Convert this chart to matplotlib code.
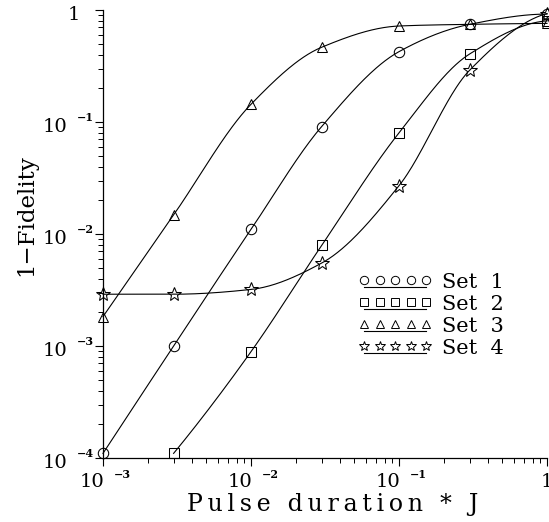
import numpy as np
import matplotlib
matplotlib.use("Agg")
import matplotlib.pyplot as plt
from matplotlib.lines import Line2D
from matplotlib.legend_handler import HandlerBase
from matplotlib.ticker import LogLocator, NullFormatter
from matplotlib.transforms import offset_copy

plt.rcParams['font.family'] = ['DejaVu Serif']

# pulse durations (units of 1/J) and infidelities per parameter set
durations = [1e-3, 3e-3, 1e-2, 3e-2, 1e-1, 3e-1, 1.0]
set1 = [1.1e-4, 1.0e-3, 1.1e-2, 9.1e-2, 4.25e-1, 7.45e-1, 0.92]
set2_durations = [3e-3, 1e-2, 3e-2, 1e-1, 3e-1, 1.0]
set2 = [1.1e-4, 8.9e-4, 7.9e-3, 8.0e-2, 4.05e-1, 0.80]
set3 = [1.83e-3, 1.48e-2, 1.44e-1, 4.65e-1, 7.2e-1, 7.45e-1, 0.76]
set4 = [2.9e-3, 2.9e-3, 3.2e-3, 5.5e-3, 2.7e-2, 2.9e-1, 0.93]

set_labels = ['Set  1', 'Set  2', 'Set  3', 'Set  4']
set_markers = ['o', 's', '^', '*']

y_decades = [-4, -3, -2, -1]
x_decades = [-3, -2, -1]


def pchip(xk, yk, xs):
    """Monotone cubic through (xk, yk), evaluated at xs."""
    xk = np.asarray(xk, float)
    yk = np.asarray(yk, float)
    h = np.diff(xk)
    delta = np.diff(yk) / h
    n = len(xk)
    d = np.zeros(n)
    for k in range(1, n - 1):
        if delta[k - 1] * delta[k] > 0:
            w1 = 2 * h[k] + h[k - 1]
            w2 = h[k] + 2 * h[k - 1]
            d[k] = (w1 + w2) / (w1 / delta[k - 1] + w2 / delta[k])

    def end_slope(h0, h1, d0, d1):
        s = ((2 * h0 + h1) * d0 - h0 * d1) / (h0 + h1)
        if np.sign(s) != np.sign(d0):
            return 0.0
        if np.sign(d0) != np.sign(d1) and abs(s) > abs(3 * d0):
            return 3 * d0
        return s

    d[0] = end_slope(h[0], h[1], delta[0], delta[1])
    d[-1] = end_slope(h[-1], h[-2], delta[-1], delta[-2])

    idx = np.clip(np.searchsorted(xk, xs) - 1, 0, n - 2)
    t = (xs - xk[idx]) / h[idx]
    h00 = 2 * t**3 - 3 * t**2 + 1
    h10 = t**3 - 2 * t**2 + t
    h01 = -2 * t**3 + 3 * t**2
    h11 = t**3 - t**2
    return (h00 * yk[idx] + h10 * h[idx] * d[idx]
            + h01 * yk[idx + 1] + h11 * h[idx] * d[idx + 1])


def smooth_curve(x, y, num=300):
    lx, ly = np.log10(x), np.log10(y)
    xs = np.linspace(lx[0], lx[-1], num)
    return 10**xs, 10**pchip(lx, ly, xs)


class MarkerRowHandler(HandlerBase):
    """Five open markers in a row with a short rule underneath."""
    def create_artists(self, legend, orig_handle, xdescent, ydescent,
                       width, height, fontsize, trans):
        pad = 5.8
        xs = np.linspace(pad - xdescent, width - pad - xdescent, 5)
        yc = (height - ydescent) / 2.0 + 0.5
        ms = 7.5 if orig_handle.get_marker() == '*' else 6.0
        marks = Line2D(xs, np.full(5, yc), ls='none',
                       marker=orig_handle.get_marker(), ms=ms,
                       mec='black', mfc='none', mew=0.7)
        under = Line2D([xs[0], xs[-1]], [yc - 5, yc - 5],
                       color='black', lw=0.8)
        marks.set_transform(trans)
        under.set_transform(trans)
        return [under, marks]


fig = plt.figure(figsize=(5.49, 5.22), dpi=100)
ax = fig.add_axes([0.1876, 0.1226, 0.8088, 0.8582])

series = [(durations, set1), (set2_durations, set2),
          (durations, set3), (durations, set4)]

handles = []
for (xv, yv), mk in zip(series, set_markers):
    cx, cy = smooth_curve(xv, yv)
    ax.plot(cx, cy, color='black', lw=0.8, clip_on=False)
    ms = 10 if mk == '*' else 7.5
    h, = ax.plot(xv, yv, ls='none', marker=mk, ms=ms, mec='black',
                 mfc='none', mew=0.75, clip_on=False)
    handles.append(h)

ax.set_xscale('log')
ax.set_yscale('log')
ax.set_xlim(1e-3, 1)
ax.set_ylim(1e-4, 1)

for side in ('top', 'right'):
    ax.spines[side].set_visible(False)
for side in ('left', 'bottom'):
    ax.spines[side].set_linewidth(0.9)

ax.xaxis.set_minor_locator(LogLocator(base=10, subs=np.arange(2, 10)))
ax.yaxis.set_minor_locator(LogLocator(base=10, subs=np.arange(2, 10)))
ax.xaxis.set_minor_formatter(NullFormatter())
ax.yaxis.set_minor_formatter(NullFormatter())
ax.tick_params(which='major', direction='out', length=6, width=0.8,
               labelbottom=False, labelleft=False)
ax.tick_params(which='minor', direction='out', length=3.5, width=0.7)

# tick labels written as "10" plus a small raised exponent
for d in y_decades:
    t_base = offset_copy(ax.get_yaxis_transform(), fig=fig, x=-36, y=-10, units='dots')
    t_exp = offset_copy(ax.get_yaxis_transform(), fig=fig, x=-26, y=1, units='dots')
    ax.text(0, 10.0**d, '10', transform=t_base, ha='right', va='baseline', fontsize=14)
    ax.text(0, 10.0**d, '\u2212%d' % -d, transform=t_exp, ha='left',
            va='baseline', fontsize=8, fontweight='bold')
t_one = offset_copy(ax.get_yaxis_transform(), fig=fig, x=-23, y=-10, units='dots')
ax.text(0, 1.0, '1', transform=t_one, ha='right', va='baseline', fontsize=14)

for d in x_decades:
    t_base = offset_copy(ax.get_xaxis_transform(), fig=fig, x=1, y=-29, units='dots')
    t_exp = offset_copy(ax.get_xaxis_transform(), fig=fig, x=11, y=-20, units='dots')
    ax.text(10.0**d, 0, '10', transform=t_base, ha='right', va='baseline', fontsize=14)
    ax.text(10.0**d, 0, '\u2212%d' % -d, transform=t_exp, ha='left',
            va='baseline', fontsize=8, fontweight='bold')
t_one = offset_copy(ax.get_xaxis_transform(), fig=fig, x=0, y=-29, units='dots')
ax.text(1.0, 0, '1', transform=t_one, ha='center', va='baseline', fontsize=14)

# axis titles (letter-spaced x title)
xlabel = '\u2009\u2009'.join('\u2009'.join(w) for w in ['Pulse', 'duration', '*', 'J'])
xlabel = xlabel.replace('\u2009\u2009', '\u2009 \u2009')
fig.text(333 / 549, 11 / 522, xlabel, ha='center', va='baseline', fontsize=17)
fig.text(32 / 549, 1 - 215 / 522, '1\u2212Fidelity', rotation=90,
         rotation_mode='anchor', ha='center', va='baseline', fontsize=16.5)

ax.legend(handles, set_labels, handler_map={Line2D: MarkerRowHandler()},
          loc='upper left', bbox_to_anchor=(0.57, 0.413), frameon=False,
          fontsize=15, handlelength=3.75, handletextpad=0.35,
          labelspacing=0.14, borderpad=0, borderaxespad=0)

fig.savefig('out.png', dpi=100)
